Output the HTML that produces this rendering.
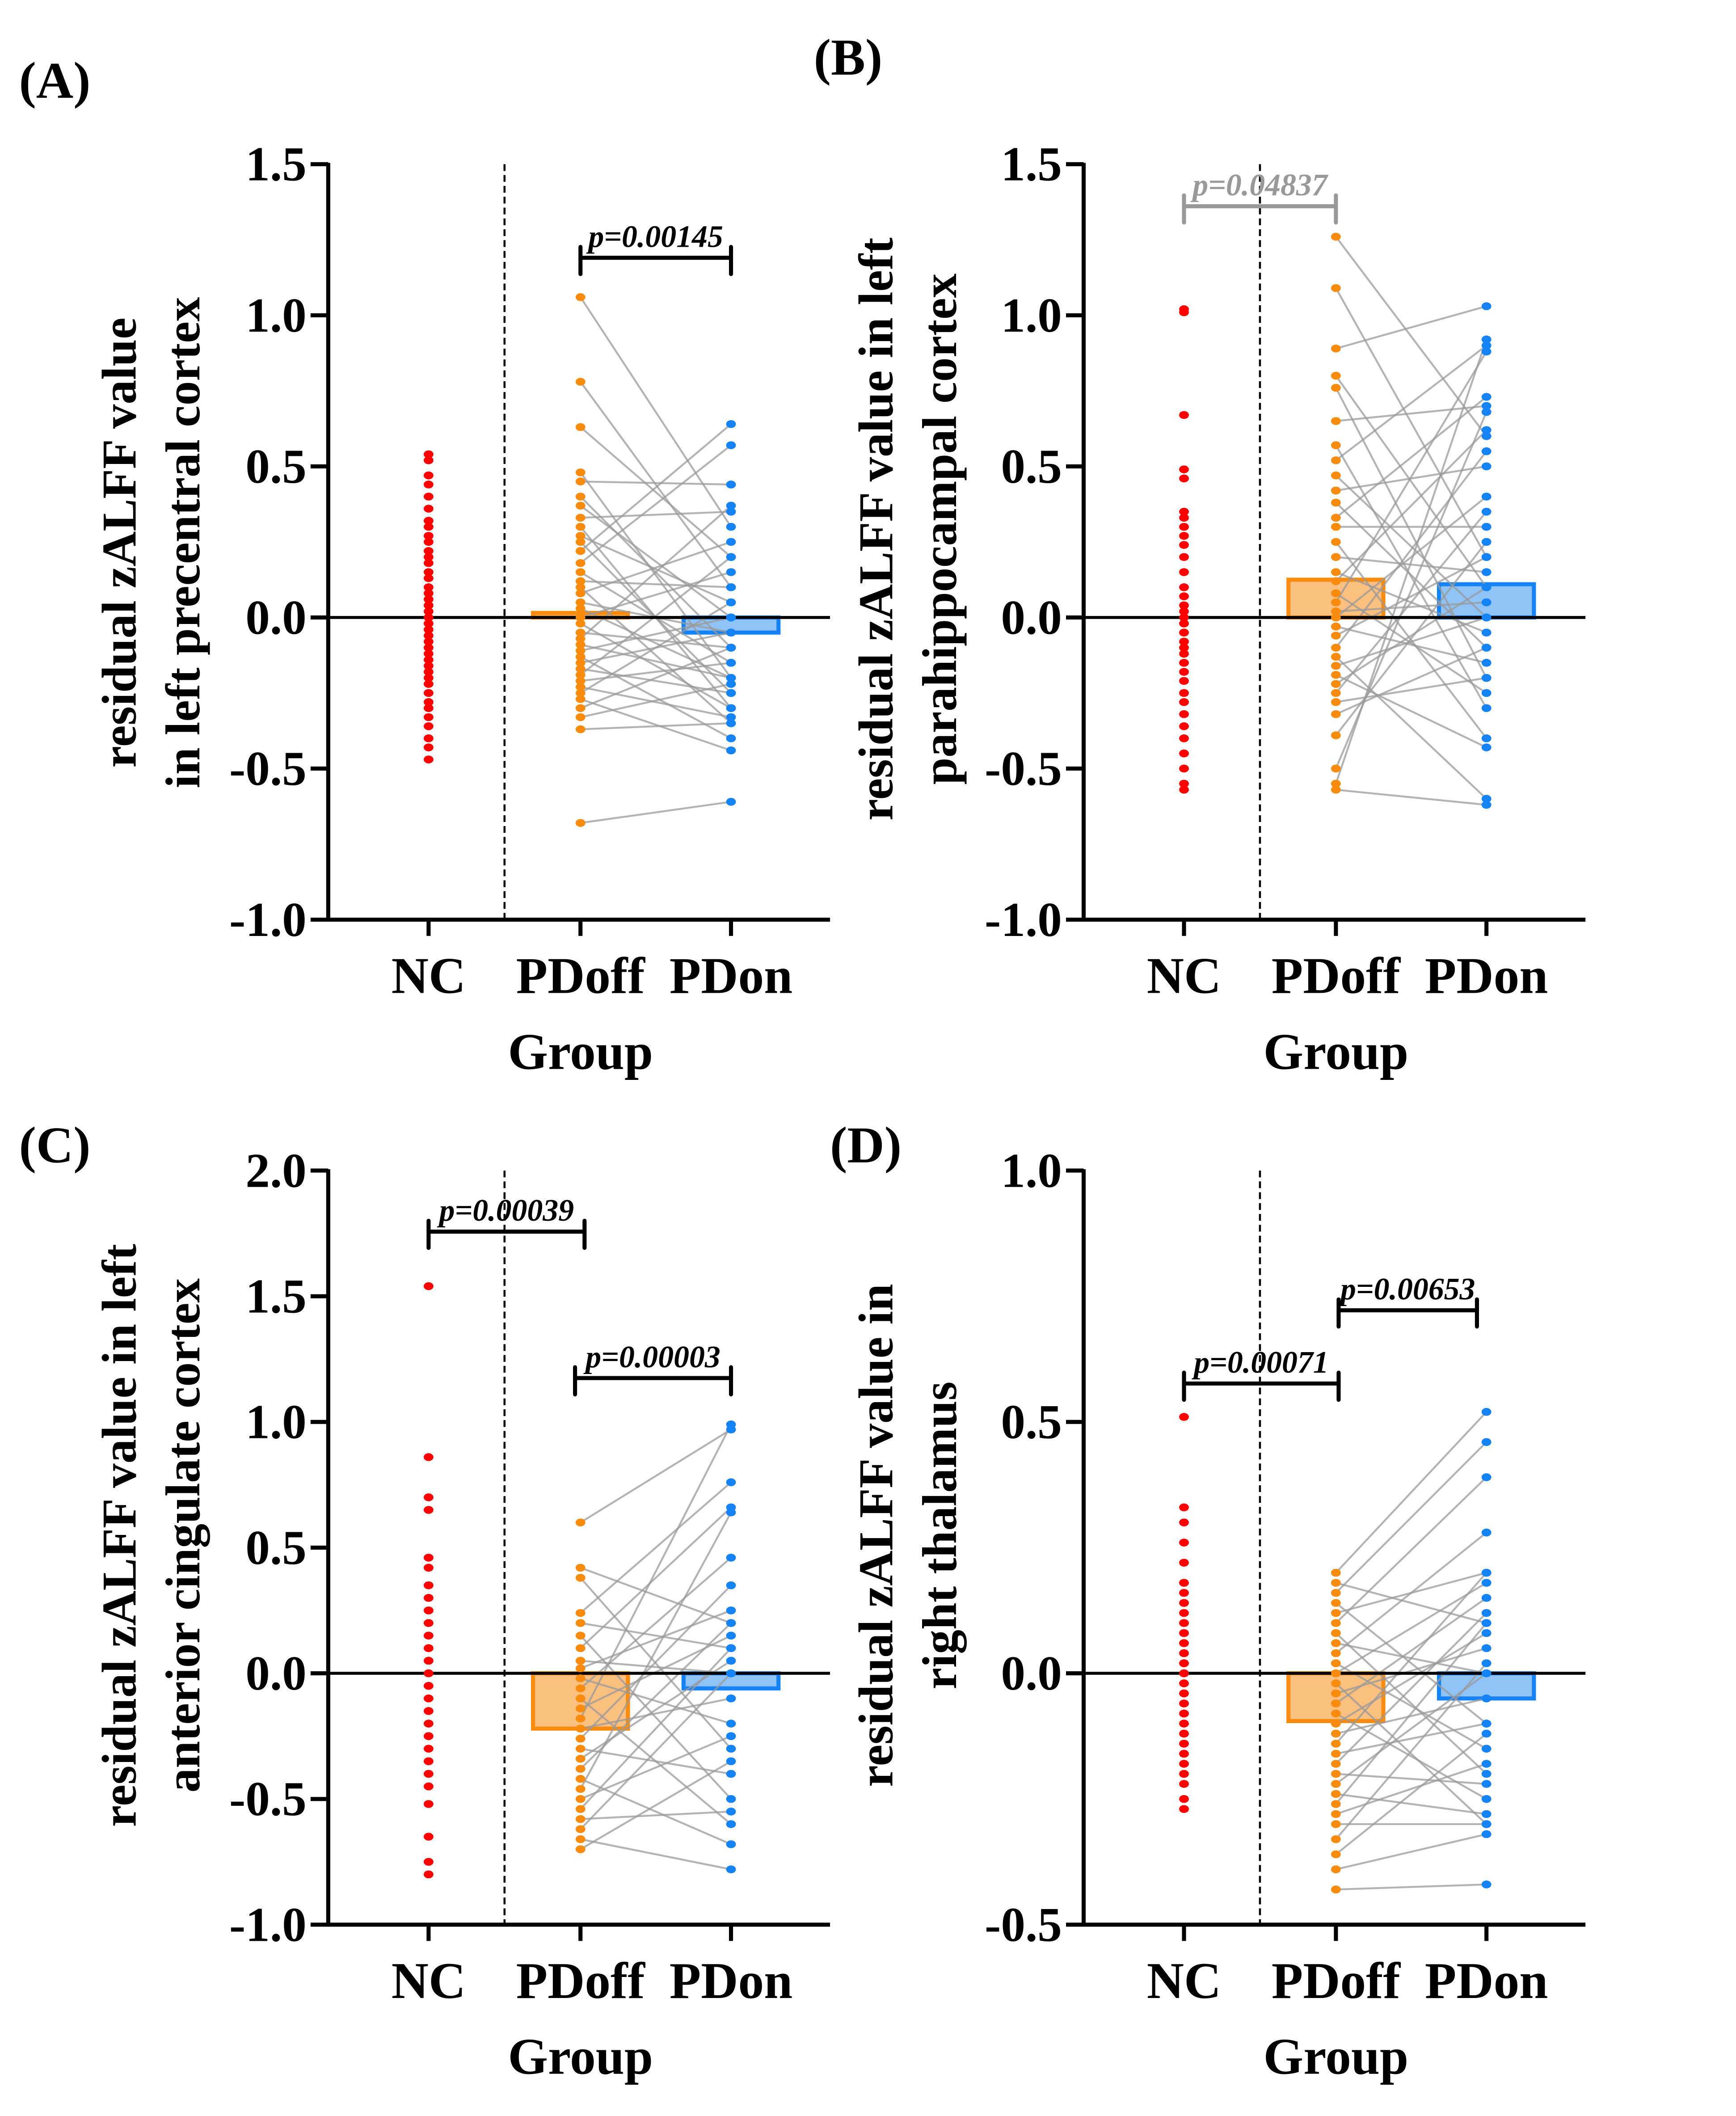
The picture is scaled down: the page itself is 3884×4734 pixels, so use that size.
<!DOCTYPE html>
<html><head><meta charset="utf-8">
<style>
html,body{margin:0;padding:0;background:#fff;}
svg{display:block;font-family:"Liberation Serif",serif;}
</style></head>
<body>
<svg id="fig" width="3884" height="4734" viewBox="0 0 1280 1560" xmlns="http://www.w3.org/2000/svg"></svg>
<script>
// ---------- data ----------
const groupLabels = ["NC", "PDoff", "PDon"];
const aTicks = ["1.5","1.0","0.5","0.0","-0.5","-1.0"];
const aNC = [0.54,0.52,0.47,0.44,0.40,0.36,0.32,0.30,0.27,0.25,0.22,0.20,0.18,0.15,0.13,0.10,0.08,0.06,0.04,0.02,0.0,-0.02,-0.04,-0.06,-0.08,-0.10,-0.12,-0.14,-0.16,-0.18,-0.20,-0.22,-0.25,-0.28,-0.30,-0.33,-0.36,-0.40,-0.43,-0.47];
const aOff = [1.06,0.78,0.63,0.48,0.45,0.40,0.37,0.33,0.30,0.27,0.25,0.22,0.18,0.15,0.12,0.10,0.08,0.05,0.03,0.0,-0.02,-0.05,-0.07,-0.09,-0.11,-0.13,-0.15,-0.17,-0.19,-0.21,-0.23,-0.25,-0.27,-0.30,-0.33,-0.37,-0.68];
const aOn = [0.3,0.1,0.2,-0.2,0.44,-0.1,0.0,0.35,-0.3,0.05,-0.25,0.64,0.57,-0.15,0.1,-0.35,0.25,-0.05,-0.2,0.15,-0.3,-0.1,0.37,-0.2,0.0,-0.4,-0.05,-0.25,0.2,-0.15,-0.33,0.05,-0.44,-0.1,-0.22,-0.35,-0.61];
const aBars = [0.015,-0.05];

const bTicks = ["1.5","1.0","0.5","0.0","-0.5","-1.0"];
const bNC = [1.02,1.01,0.67,0.49,0.46,0.35,0.33,0.30,0.27,0.24,0.20,0.15,0.10,0.07,0.04,0.02,0.0,-0.02,-0.05,-0.08,-0.10,-0.12,-0.15,-0.18,-0.21,-0.25,-0.28,-0.32,-0.36,-0.40,-0.45,-0.50,-0.55,-0.57];
const bOff = [1.26,1.09,0.89,0.80,0.76,0.65,0.57,0.52,0.47,0.42,0.38,0.33,0.30,0.25,0.20,0.15,0.12,0.08,0.05,0.02,0.0,-0.03,-0.06,-0.10,-0.13,-0.16,-0.19,-0.22,-0.25,-0.28,-0.32,-0.39,-0.50,-0.55,-0.57];
const bOn = [0.6,0.2,1.03,0.1,-0.2,0.7,-0.3,0.9,0.0,0.5,-0.1,0.73,0.3,-0.4,0.15,-0.05,0.62,-0.25,0.88,0.05,0.4,-0.15,0.2,0.55,-0.6,0.0,-0.43,0.1,0.35,-0.2,-0.1,0.25,0.68,0.92,-0.62];
const bBars = [0.125,0.11];

const cTicks = ["2.0","1.5","1.0","0.5","0.0","-0.5","-1.0"];
const cNC = [1.54,0.86,0.70,0.65,0.46,0.42,0.35,0.30,0.25,0.20,0.15,0.10,0.05,0.0,-0.05,-0.10,-0.15,-0.20,-0.25,-0.30,-0.35,-0.40,-0.45,-0.52,-0.65,-0.75,-0.80];
const cOff = [0.60,0.42,0.38,0.24,0.20,0.15,0.10,0.05,0.02,-0.02,-0.06,-0.10,-0.14,-0.18,-0.22,-0.26,-0.30,-0.34,-0.38,-0.42,-0.46,-0.50,-0.54,-0.58,-0.62,-0.66,-0.70];
const cOn = [0.97,0.2,-0.3,0.76,0.1,-0.5,0.66,0.0,0.25,-0.2,0.46,-0.6,0.15,0.99,-0.1,0.35,-0.4,0.05,0.2,-0.68,0.64,-0.25,0.1,-0.55,0.0,-0.78,-0.35];
const cBars = [-0.22,-0.06];

const dTicks = ["1.0","0.5","0.0","-0.5"];
const dNC = [0.51,0.33,0.30,0.26,0.22,0.18,0.16,0.14,0.12,0.10,0.08,0.06,0.04,0.02,0.0,-0.02,-0.04,-0.06,-0.08,-0.10,-0.12,-0.14,-0.16,-0.18,-0.20,-0.22,-0.25,-0.27];
const dOff = [0.20,0.18,0.16,0.14,0.12,0.10,0.08,0.06,0.04,0.02,0.0,-0.02,-0.04,-0.06,-0.08,-0.10,-0.12,-0.14,-0.16,-0.18,-0.20,-0.22,-0.24,-0.26,-0.28,-0.30,-0.33,-0.36,-0.39,-0.43];
const dOn = [0.52,0.1,0.46,-0.1,0.2,0.39,-0.2,0.0,0.28,-0.15,0.18,-0.3,0.05,0.15,-0.25,0.08,-0.05,0.2,-0.1,0.12,-0.22,0.0,-0.28,0.1,-0.18,-0.3,0.02,-0.12,-0.32,-0.42];
const dBars = [-0.095,-0.05];

// ---------- drawing ----------
const NS = "http://www.w3.org/2000/svg";
const svg = document.getElementById('fig');
function mk(tag, attrs, parent){
  const e = document.createElementNS(NS, tag);
  for (const k in attrs) e.setAttribute(k, attrs[k]);
  (parent||svg).appendChild(e);
  return e;
}
function txt(s, attrs, parent){ const t = mk('text', attrs, parent); t.textContent = s; return t; }

function panel(o){
  const g = mk('g', {});
  
  
  const top = o.top, bot = o.bot, ax = o.ax;
  const ymax = o.ymax, ymin = o.ymin;
  const y = v => top + (ymax - v) / (ymax - ymin) * (bot - top);
  const xs = [ax + 74, ax + 186, ax + 297];
  const axEnd = ax + 370;

  // panel letter
  const pl = txt('(' + o.id + ')', {x:o.lx, y:o.ly, 'font-size':38, 'font-weight':'bold'}, g);
  
  

  // dashed separator
  const ds = mk('line', {x1:ax+130, x2:ax+130, y1:top, y2:bot, stroke:'#000', 'stroke-width':1.5, 'stroke-dasharray':'5,3'}, g);
  
  

  // bars
  const barCols = [['#fbbf80','#f98b0f'],['#8fc3f8','#1583f5']];
  o.bars.forEach((v, i) => {
    const cx = xs[i+1];
    const y0 = y(0), y1 = y(v);
    const r = mk('rect', {x:cx-35, width:70, y:Math.min(y0,y1), height:Math.max(Math.abs(y1-y0),0.5), fill:barCols[i][0], stroke:barCols[i][1], 'stroke-width':3}, g);
    
    
  });

  // paired lines
  const n = Math.min(o.off.length, o.on.length);
  for (let i = 0; i < n; i++){
    const l = mk('line', {x1:xs[1], y1:y(o.off[i]), x2:xs[2], y2:y(o.on[i]), stroke:'#999', 'stroke-width':1.4, 'stroke-opacity':0.75}, g);
    
    
  }

  // zero line
  const zl = mk('line', {x1:ax, x2:axEnd, y1:y(0), y2:y(0), stroke:'#000', 'stroke-width':2.2}, g);
  
  

  // points
  const sets = [[o.nc,'#ff0000','nc'],[o.off,'#f98b0f','pdoff'],[o.on,'#1583f5','pdon']];
  sets.forEach((s, gi) => {
    s[0].forEach(v => {
      const p = mk('ellipse', {cx:xs[gi], cy:y(v), rx:3.6, ry:2.9, fill:s[1]}, g);
      
      
    });
  });

  // axes
  const ya = mk('line', {x1:ax, x2:ax, y1:top-1, y2:bot+1.5, stroke:'#000', 'stroke-width':3}, g);
  
  
  const xa = mk('line', {x1:ax-1.5, x2:axEnd, y1:bot, y2:bot, stroke:'#000', 'stroke-width':3}, g);
  
  

  o.ticks.forEach(t => {
    const ty = y(parseFloat(t));
    const tk = mk('line', {x1:ax-13, x2:ax, y1:ty, y2:ty, stroke:'#000', 'stroke-width':3}, g);
    
    
    const tl = txt(t, {x:ax-16, y:ty+12, 'font-size':36, 'font-weight':'bold', 'text-anchor':'end'}, g);
    
    
  });
  xs.forEach((x, i) => {
    const tk = mk('line', {x1:x, x2:x, y1:bot, y2:bot+12, stroke:'#000', 'stroke-width':3}, g);
    
    
    const tl = txt(groupLabels[i], {x:x, y:bot+54, 'font-size':38, 'font-weight':'bold', 'text-anchor':'middle'}, g);
    
    
  });
  const xt = txt('Group', {x:xs[1], y:bot+110, 'font-size':38, 'font-weight':'bold', 'text-anchor':'middle'}, g);
  
  

  // y title
  o.ylab.forEach((s, i) => {
    const lx = o.ylx + i*47;
    const yt = txt(s, {x:0, y:0, 'font-size':36, 'font-weight':'bold', 'text-anchor':'middle', transform:'translate('+lx+','+o.yly+') rotate(-90)'}, g);
    
    
  });

  // brackets
  o.brackets.forEach(b => {
    const x1 = xs[b.a] + (b.dx1||0), x2 = xs[b.b] + (b.dx2||0);
    const bg = mk('g', {stroke:b.col, 'stroke-width':3, fill:'none', 'stroke-linecap':'round'}, g);
    
    
    mk('line', {x1:x1, x2:x2, y1:b.y, y2:b.y}, bg);
    mk('line', {x1:x1, x2:x1, y1:b.y-8, y2:b.y+12}, bg);
    mk('line', {x1:x2, x2:x2, y1:b.y-8, y2:b.y+12}, bg);
    const pt = txt(b.t, {x:(x1+x2)/2, y:b.y-8, 'font-size':23, 'font-weight':'bold', 'font-style':'italic', 'text-anchor':'middle', fill:b.col}, g);
    
    
  });
}

panel({id:'A', lx:14, ly:72, ax:242, top:121, bot:678, ymax:1.5, ymin:-1.0, ticks:aTicks,
  nc:aNC, off:aOff, on:aOn, bars:aBars, ylab:['residual zALFF value','in left precentral cortex'], ylx:100, yly:400,
  brackets:[{a:1,b:2,y:190,col:'#000',t:'p=0.00145'}]});
panel({id:'B', lx:600, ly:55, ax:799, top:121, bot:678, ymax:1.5, ymin:-1.0, ticks:bTicks,
  nc:bNC, off:bOff, on:bOn, bars:bBars, ylab:['residual zALFF value in left','parahippocampal cortex'], ylx:658, yly:390,
  brackets:[{a:0,b:1,y:152,col:'#999',t:'p=0.04837'}]});
panel({id:'C', lx:14, ly:857, ax:242, top:863, bot:1419, ymax:2.0, ymin:-1.0, ticks:cTicks,
  nc:cNC, off:cOff, on:cOn, bars:cBars, ylab:['residual zALFF value in left','anterior cingulate cortex'], ylx:100, yly:1132,
  brackets:[{a:0,b:1,y:908,col:'#000',t:'p=0.00039',dx2:3},{a:1,b:2,y:1016,col:'#000',t:'p=0.00003',dx1:-4}]});
panel({id:'D', lx:612, ly:857, ax:799, top:863, bot:1419, ymax:1.0, ymin:-0.5, ticks:dTicks,
  nc:dNC, off:dOff, on:dOn, bars:dBars, ylab:['residual zALFF value in','right thalamus'], ylx:658, yly:1132,
  brackets:[{a:0,b:1,y:1020,col:'#000',t:'p=0.00071',dx2:2},{a:1,b:2,y:966,col:'#000',t:'p=0.00653',dx1:2,dx2:-7}]});
</script>
</body></html>
